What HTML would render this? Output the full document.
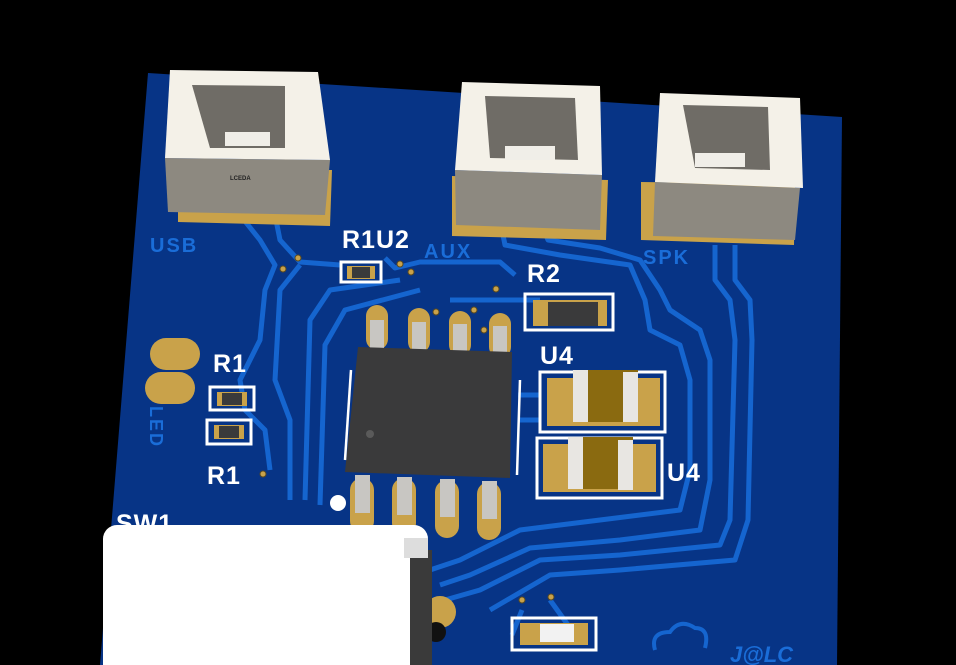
<!DOCTYPE html>
<html><head><meta charset="utf-8"><style>
html,body{margin:0;padding:0;background:#000;}
svg{display:block}
text{font-family:"Liberation Sans",sans-serif;font-weight:bold}
</style></head><body>
<svg width="956" height="665" viewBox="0 0 956 665" xmlns="http://www.w3.org/2000/svg">
<rect width="956" height="665" fill="#000"/>
<polygon points="148,73 842,117 837,665 100,665" fill="#073486"/>
<g fill="none" stroke="#1565cf" stroke-width="5" stroke-linejoin="round">
<polyline points="240,215 260,240 275,265 265,290 260,340 240,380 245,410 265,430 270,470"/>
<polyline points="275,215 280,240 300,262 340,265"/>
<polyline points="300,265 280,290 275,380 290,420 290,500"/>
<polyline points="385,258 395,268 420,262 500,262 515,275"/>
<polyline points="400,280 330,290 310,320 305,500"/>
<polyline points="420,290 345,310 325,345 320,505"/>
<polyline points="500,220 505,245 560,255 630,265 645,300 650,330 680,345 690,380 690,470 680,510 600,520 520,530 460,560 430,570"/>
<polyline points="540,220 548,240 600,248 640,260 660,290 670,310 700,330 710,360 710,480 700,530 620,540 530,548 470,575 440,585"/>
<polyline points="715,245 715,280 730,300 735,340 730,520 720,545 620,555 540,560 480,590 445,600"/>
<polyline points="735,245 735,280 750,300 752,340 748,520 735,560 620,570 550,575 490,610"/>
<polyline points="518,420 540,420"/><polyline points="518,395 540,395"/>
<polyline points="450,300 540,300"/>
<polyline points="522,610 512,635"/><polyline points="550,600 568,625"/>
</g>
<g fill="#1a6dd8" font-size="20" letter-spacing="2">
<text x="150" y="252">USB</text><text x="424" y="258">AUX</text><text x="643" y="264">SPK</text>
<text transform="translate(150,406) rotate(90)" font-size="18">LED</text>
</g>
<g>
<polygon points="178,170 332,170 330,226 178,222" fill="#c9a24a"/>
<polygon points="165,158 330,160 325,215 168,212" fill="#8d8980"/>
<polygon points="170,70 318,72 330,160 165,158" fill="#f4f1e8"/>
<polygon points="192,85 285,86 285,148 210,148" fill="#6f6c66"/>
<rect x="225" y="132" width="45" height="14" fill="#f0eee8"/>
<text x="230" y="180" font-size="6" fill="#222">LCEDA</text>
<polygon points="452,176 608,180 606,240 452,236" fill="#c9a24a"/>
<polygon points="455,170 602,175 600,230 456,225" fill="#8d8980"/>
<polygon points="462,82 600,86 602,175 455,170" fill="#f4f1e8"/>
<polygon points="485,96 575,98 578,160 490,158" fill="#6f6c66"/>
<rect x="505" y="146" width="50" height="14" fill="#f0eee8"/>
<polygon points="641,182 795,184 794,245 641,240" fill="#c9a24a"/>
<polygon points="655,182 800,188 795,240 653,236" fill="#8d8980"/>
<polygon points="660,93 800,98 803,188 655,182" fill="#f4f1e8"/>
<polygon points="683,105 768,107 770,170 695,168" fill="#6f6c66"/>
<rect x="695" y="153" width="50" height="14" fill="#f0eee8"/>
</g>
<g fill="#c9a24a" stroke="#5a4a20" stroke-width="1">
<circle cx="298" cy="258" r="3"/><circle cx="283" cy="269" r="3"/><circle cx="400" cy="264" r="3"/><circle cx="411" cy="272" r="3"/>
<circle cx="496" cy="289" r="3"/><circle cx="436" cy="312" r="3"/><circle cx="474" cy="310" r="3"/><circle cx="484" cy="330" r="3"/>
<circle cx="263" cy="474" r="3"/><circle cx="522" cy="600" r="3"/><circle cx="551" cy="597" r="3"/>
</g>
<g fill="#c9a24a">
<rect x="366" y="305" width="22" height="45" rx="11"/><rect x="408" y="308" width="22" height="45" rx="11"/>
<rect x="449" y="311" width="22" height="45" rx="11"/><rect x="489" y="313" width="22" height="45" rx="11"/>
<rect x="350" y="478" width="24" height="55" rx="12"/><rect x="392" y="478" width="24" height="57" rx="12"/>
<rect x="435" y="480" width="24" height="58" rx="12"/><rect x="477" y="482" width="24" height="58" rx="12"/>
</g>
<g fill="#c8c6c2">
<rect x="370" y="320" width="14" height="28"/><rect x="412" y="322" width="14" height="28"/><rect x="453" y="324" width="14" height="28"/><rect x="493" y="326" width="14" height="28"/>
<rect x="355" y="475" width="15" height="38"/><rect x="397" y="477" width="15" height="38"/><rect x="440" y="479" width="15" height="38"/><rect x="482" y="481" width="15" height="38"/>
</g>
<polygon points="358,347 512,352 510,478 345,472" fill="#3a3a3b"/>
<circle cx="370" cy="434" r="4" fill="#5a5a5a"/>
<circle cx="338" cy="503" r="8" fill="#fff"/>
<g stroke="#fff" stroke-width="2.5" fill="none">
<line x1="351" y1="370" x2="345" y2="460"/><line x1="520" y1="380" x2="517" y2="475"/>
</g>
<g>
<rect x="540" y="372" width="125" height="60" fill="none" stroke="#fff" stroke-width="3"/>
<rect x="547" y="378" width="113" height="48" fill="#c9a24a"/>
<rect x="573" y="370" width="65" height="52" fill="#8a6a10"/>
<rect x="573" y="370" width="15" height="52" fill="#e8e6e2"/><rect x="623" y="372" width="15" height="50" fill="#e8e6e2"/>
<rect x="537" y="438" width="125" height="60" fill="none" stroke="#fff" stroke-width="3"/>
<rect x="543" y="444" width="113" height="48" fill="#c9a24a"/>
<rect x="568" y="437" width="65" height="52" fill="#8a6a10"/>
<rect x="568" y="437" width="15" height="52" fill="#e8e6e2"/><rect x="618" y="440" width="15" height="50" fill="#e8e6e2"/>
</g>
<rect x="525" y="294" width="88" height="36" fill="none" stroke="#fff" stroke-width="3"/>
<rect x="533" y="300" width="74" height="26" fill="#c9a24a"/>
<rect x="548" y="302" width="50" height="24" fill="#3a3a3b"/>
<rect x="341" y="262" width="40" height="20" fill="none" stroke="#fff" stroke-width="3"/>
<rect x="347" y="266" width="28" height="13" fill="#c9a24a"/><rect x="352" y="267" width="18" height="11" fill="#3a3a3b"/>
<rect x="210" y="387" width="44" height="23" fill="none" stroke="#fff" stroke-width="3"/>
<rect x="217" y="392" width="30" height="14" fill="#c9a24a"/><rect x="222" y="393" width="20" height="12" fill="#3a3a3b"/>
<rect x="207" y="420" width="44" height="24" fill="none" stroke="#fff" stroke-width="3"/>
<rect x="214" y="425" width="30" height="14" fill="#c9a24a"/><rect x="219" y="426" width="20" height="12" fill="#3a3a3b"/>
<rect x="150" y="338" width="50" height="32" rx="16" fill="#c9a24a"/>
<rect x="145" y="372" width="50" height="32" rx="16" fill="#c9a24a"/>
<g fill="#fff" font-size="25" letter-spacing="1">
<text x="342" y="248">R1U2</text><text x="527" y="282">R2</text><text x="540" y="364">U4</text><text x="667" y="481">U4</text>
<text x="213" y="372">R1</text><text x="207" y="484">R1</text><text x="116" y="532">SW1</text>
</g>
<circle cx="440" cy="612" r="16" fill="#c9a24a"/><circle cx="436" cy="632" r="10" fill="#111"/>
<rect x="512" y="618" width="84" height="32" fill="none" stroke="#fff" stroke-width="3"/>
<rect x="520" y="623" width="68" height="22" fill="#c9a24a"/><rect x="540" y="624" width="34" height="18" fill="#f2f2f2"/>
<path d="M655,650 q-5,-18 15,-18 q10,-14 25,-4 q15,0 10,20" fill="none" stroke="#1565cf" stroke-width="4"/>
<text x="730" y="662" fill="#1a6dd8" font-size="22" font-style="italic">J@LC</text>
<rect x="103" y="525" width="325" height="160" rx="14" fill="#fff"/>
<rect x="410" y="550" width="22" height="125" fill="#3a3a3a"/>
<rect x="404" y="538" width="24" height="20" fill="#ddd"/>
</svg>
</body></html>
